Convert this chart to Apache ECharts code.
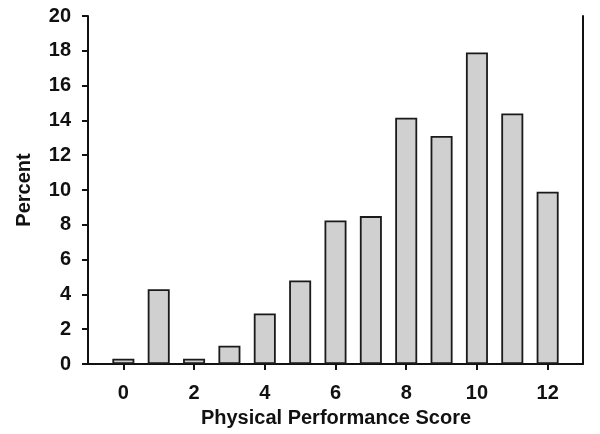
<!DOCTYPE html>
<html>
<head>
<meta charset="utf-8">
<script src="https://cdn.jsdelivr.net/npm/echarts@6/dist/echarts.min.js"></script>
<style>
  html, body { margin: 0; padding: 0; background: #fff; }
  #chart { width: 600px; height: 434px; }
</style>
</head>
<body>
<div id="chart"></div>
<script>
// physical performance score 0..12
const scores = [0, 1, 2, 3, 4, 5, 6, 7, 8, 9, 10, 11, 12];
const percents = [0.3, 4.3, 0.3, 1.05, 2.9, 4.8, 8.25, 8.5, 14.15, 13.1, 17.9, 14.4, 9.9];
const xTicks = [0, 2, 4, 6, 8, 10, 12];
const yTicks = [0, 2, 4, 6, 8, 10, 12, 14, 16, 18, 20];

const font = "'Liberation Sans', Arial, sans-serif";
const chart = echarts.init(document.getElementById("chart"));

chart.setOption({
  animation: false,
  title: {
    text: "Physical Performance Score",
    left: 331,
    top: 403,
    textAlign: "center",
    textStyle: { fontFamily: font, fontWeight: "bold", fontSize: 20, color: "#111" }
  },
  grid: { left: 88, right: 17, top: 16, bottom: 70 },
  xAxis: {
    type: "value",
    min: -1,
    max: 13,
    splitLine: { show: false },
    axisLine: { lineStyle: { color: "#111", width: 2 } },
    axisTick: { show: true, customValues: xTicks, length: 6, lineStyle: { color: "#111", width: 2 } },
    axisLabel: {
      customValues: xTicks,
      margin: 19,
      fontFamily: font, fontWeight: "bold", fontSize: 20, color: "#111"
    }
  },
  yAxis: [{
    type: "value",
    min: 0,
    max: 20,
    interval: 2,
    name: "Percent",
    nameLocation: "middle",
    nameGap: 54,
    nameTextStyle: { fontFamily: font, fontWeight: "bold", fontSize: 20, color: "#111" },
    splitLine: { show: false },
    axisLine: { show: true, onZero: false, lineStyle: { color: "#111", width: 2 } },
    axisTick: { show: true, length: 6, lineStyle: { color: "#111", width: 2 } },
    axisLabel: {
      margin: 17,
      formatter: v => (yTicks.includes(v) ? String(v) : ""),
      fontFamily: font, fontWeight: "bold", fontSize: 20, color: "#111"
    }
  }, {
    type: "value",
    position: "right",
    min: 0,
    max: 20,
    splitLine: { show: false },
    axisLine: { show: true, onZero: false, lineStyle: { color: "#111", width: 2 } },
    axisTick: { show: false },
    axisLabel: { show: false }
  }],
  series: [{
    type: "bar",
    barWidth: 22,
    data: scores.map((s, i) => [s, percents[i]]),
    itemStyle: { color: "#d0d0d0", borderColor: "#1a1a1a", borderWidth: 1.8 }
  }]
});
</script>
</body>
</html>
